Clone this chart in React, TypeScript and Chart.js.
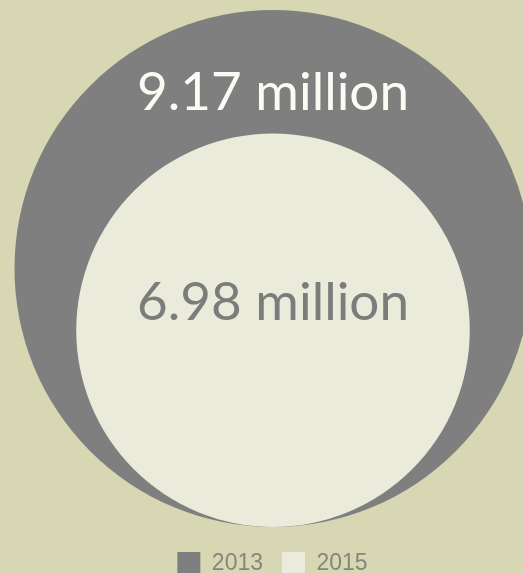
import React, { useEffect, useRef } from "react";
import { Chart, registerables } from "chart.js";

Chart.register(...registerables);

const categories = ["2013", "2015"];
const values = [9.17, 6.98];
const valueLabels = ["9.17 million", "6.98 million"];

const BG = "#d7d7b3";
const COLORS = ["#7f7f7f", "#ebebdc"];
const LABEL_COLORS = ["#fbfbf4", "#7c7c7a"];
const LABEL_OFFSETS = [-0.612, -0.051]; // baseline position, fraction of radius from center

const labelPlugin = {
  id: "circleLabels",
  afterDatasetsDraw(chart: any) {
    const ctx = chart.ctx;
    ctx.save();
    ctx.textAlign = "center";
    ctx.textBaseline = "alphabetic";
    ctx.font = "400 53px Lato";
    chart.data.datasets.forEach((ds: any, i: number) => {
      const meta = chart.getDatasetMeta(i);
      const el = meta.data[0];
      if (!el) return;
      const r = el.options.radius;
      ctx.fillStyle = LABEL_COLORS[i];
      ctx.fillText(valueLabels[i], el.x, el.y + LABEL_OFFSETS[i] * r);
    });
    ctx.restore();
  },
};

export default function App() {
  const ref = useRef<HTMLCanvasElement>(null);
  useEffect(() => {
    document.body.style.margin = "0";
    document.body.style.background = BG;
    const canvas = ref.current!;
    const chart = new Chart(canvas, {
      type: "scatter",
      data: {
        datasets: categories.map((c, i) => ({
          label: c,
          data: [{ x: 0, y: values[i], v: values[i] }],
          backgroundColor: COLORS[i],
          borderColor: COLORS[i],
          borderWidth: 0,
          pointBackgroundColor: COLORS[i],
          pointBorderWidth: 0,
          pointHoverBorderWidth: 0,
          pointStyle: "circle",
          showLine: false,
          order: i === 0 ? 1 : 0,
          clip: false as any,
          pointRadius: (ctx: any) => {
            const ys = ctx.chart.scales.y;
            const v = ctx.raw ? ctx.raw.v : 0;
            const r = ys.getPixelForValue(0) - ys.getPixelForValue(v);
            return isFinite(r) ? r : 0;
          },
        })),
      },
      options: {
        responsive: false,
        animation: false,
        events: [],
        layout: { padding: { left: 22, right: 0, top: 0, bottom: 0 } },
        scales: {
          x: { type: "linear", min: -8.904, max: 8.868, display: false },
          y: { type: "linear", min: -0.213, max: 18.694, display: false },
        },
        plugins: {
          tooltip: { enabled: false },
          legend: {
            display: true,
            position: "bottom",
            labels: {
              boxWidth: 23,
              boxHeight: 23,
              padding: 19,
              color: "#86867c",
              font: { family: "'Liberation Sans', Arial, sans-serif", size: 23 },
              sort: (a: any, b: any) => a.datasetIndex - b.datasetIndex,
            },
          },
        },
      },
      plugins: [labelPlugin],
    });
    return () => chart.destroy();
  }, []);
  return (
    <div style={{ position: "absolute", left: 0, top: 0, width: 523, height: 573, overflow: "hidden", background: BG }}>
      <canvas ref={ref} width={523} height={585} style={{ display: "block" }} />
    </div>
  );
}
